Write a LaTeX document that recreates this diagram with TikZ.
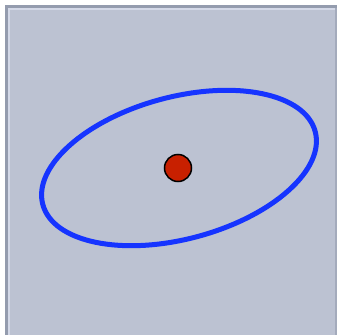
\documentclass[tikz,border=0pt]{standalone}
\begin{document}
\begin{tikzpicture}[x=1pt,y=-1pt,
  panel/.style={fill=panelbg,draw=none},
  orbit/.style={draw=orbitblue,line width=5pt},
  dot/.style={circle,fill=dotred,draw=black,line width=1.5pt,minimum size=27pt,inner sep=0pt}]
\definecolor{panelbg}{RGB}{188,194,210}
\definecolor{edgedark}{RGB}{148,156,174}
\definecolor{edgelight}{RGB}{212,217,232}
\definecolor{orbitblue}{RGB}{22,52,255}
\definecolor{dotred}{RGB}{200,32,0}
\useasboundingbox (0,0) rectangle (338,335);
\fill[white] (0,0) rectangle (338,335);
\fill[panelbg] (5,5) rectangle (337,335);
\fill[edgedark] (5,5) rectangle (337,7.5);
\fill[edgedark] (5,5) rectangle (7.5,335);
\fill[edgelight] (7.5,7.5) rectangle (337,9.5);
\fill[edgelight] (7.5,7.5) rectangle (9.5,335);
\fill[edgedark!60!panelbg] (335,7.5) rectangle (337,335);
\draw[orbit,rotate around={15:(179,168)}] (179,168) ellipse [x radius=141, y radius=71];
\node[dot] (center) at (178,168) {};
\end{tikzpicture}
\end{document}
